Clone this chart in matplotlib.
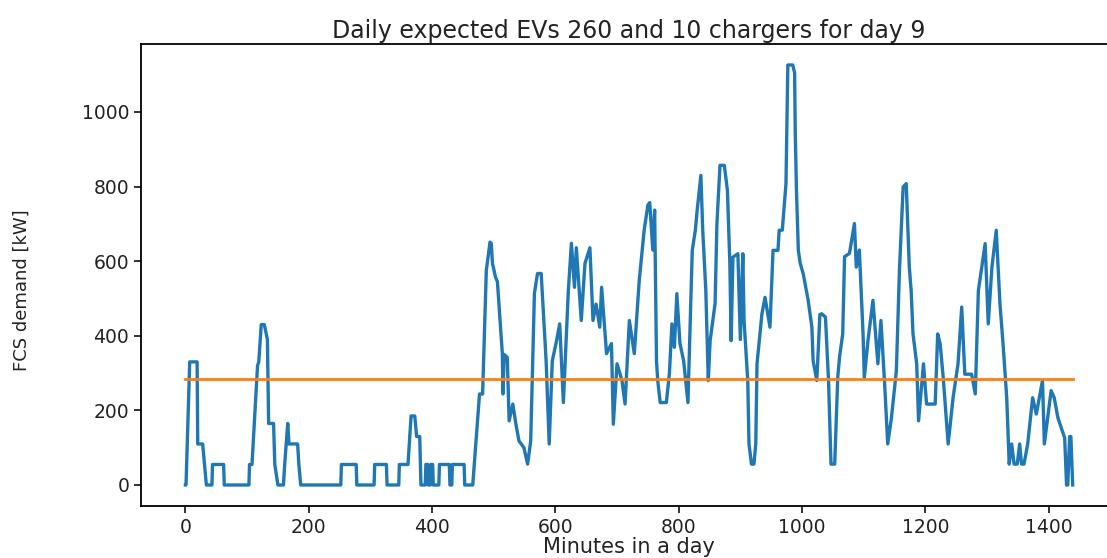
import numpy as np
import matplotlib
matplotlib.use("Agg")
import matplotlib.pyplot as plt

# demand trace: vertices (minute of day, kW)
minutes = [
    0, 1, 7, 19, 20, 28, 34, 43, 44, 62, 63, 103, 104, 108, 117, 119, 123, 128, 133, 135,
    143, 145, 150, 159, 161, 166, 168, 182, 184, 187, 252, 253, 277, 278, 306, 307, 326, 327,
    346, 347, 361, 366, 372, 375, 380, 382, 389, 390, 393, 394, 397, 398, 401, 402, 411, 412,
    428, 429, 432, 433, 452, 453, 466, 477, 482, 488, 494, 496, 498, 503, 506, 514, 515, 517,
    522, 525, 531, 536, 541, 549, 555, 560, 566, 571, 577, 585, 590, 595, 601, 607, 613, 621,
    626, 631, 634, 642, 648, 656, 661, 666, 672, 675, 683, 691, 694, 700, 708, 713, 720, 728,
    736, 744, 750, 753, 758, 761, 764, 766, 770, 780, 785, 789, 793, 797, 802, 808, 815, 819,
    822, 827, 830, 836, 839, 844, 848, 851, 859, 862, 867, 874, 879, 883, 885, 888, 896, 900,
    904, 906, 912, 914, 918, 922, 925, 927, 935, 940, 948, 953, 961, 963, 968, 974, 977, 985,
    988, 989, 991, 994, 997, 1002, 1010, 1016, 1018, 1024, 1029, 1032, 1038, 1043, 1047, 1053,
    1058, 1061, 1066, 1069, 1077, 1085, 1088, 1093, 1099, 1101, 1107, 1115, 1123, 1128, 1134,
    1139, 1145, 1153, 1158, 1164, 1169, 1174, 1177, 1180, 1186, 1189, 1197, 1202, 1216, 1220,
    1224, 1229, 1237, 1245, 1253, 1259, 1264, 1275, 1281, 1286, 1297, 1302, 1308, 1315, 1321,
    1326, 1332, 1336, 1340, 1344, 1349, 1353, 1356, 1360, 1366, 1374, 1380, 1390, 1393, 1404,
    1409, 1415, 1426, 1429, 1431, 1434, 1436, 1439,
]
demand_kw = [
    0, 0, 330, 330, 110, 110, 0, 0, 55, 55, 0, 0, 55, 55, 320, 330, 430, 430, 390, 165,
    165, 55, 0, 0, 55, 165, 110, 110, 55, 0, 0, 55, 55, 0, 0, 55, 55, 0,
    0, 55, 55, 185, 185, 130, 130, 0, 0, 55, 55, 0, 0, 55, 55, 0, 0, 55,
    55, 0, 0, 55, 55, 0, 0, 244, 244, 575, 651, 648, 594, 557, 545, 352, 244, 350,
    342, 172, 217, 163, 118, 100, 56, 118, 513, 567, 567, 333, 110, 333, 379, 432, 221, 520,
    648, 530, 636, 441, 594, 636, 441, 485, 423, 530, 352, 379, 163, 325, 280, 217, 441, 352,
    548, 683, 750, 757, 630, 737, 333, 280, 221, 221, 300, 432, 369, 513, 380, 333, 221, 459,
    629, 683, 737, 830, 683, 521, 280, 387, 486, 701, 857, 857, 790, 593, 387, 611, 620, 390,
    620, 441, 280, 110, 56, 56, 110, 325, 459, 503, 423, 629, 629, 683, 683, 808, 1126, 1126,
    1105, 948, 790, 630, 595, 566, 495, 423, 333, 280, 457, 459, 450, 280, 56, 56,
    290, 345, 405, 612, 621, 701, 584, 630, 405, 288, 387, 495, 325, 441, 271,
    110, 180, 306, 575, 799, 808, 584, 521, 405, 325, 172, 325, 217, 217, 405,
    379, 288, 110, 234, 325, 477, 297, 297, 244, 521, 647, 432, 584, 683, 486,
    379, 234, 56, 110, 56, 56, 110, 56, 56, 110, 234, 190, 280, 110, 253,
    234, 180, 126, 0, 0, 130, 130, 0,
]
avg_demand = 283

title = "Daily expected EVs 260 and 10 chargers for day 9"
x_label = "Minutes in a day"
y_label = "FCS demand [kW]"

plt.rcParams["font.family"] = ["DejaVu Sans"]
plt.rcParams["axes.linewidth"] = 1.3

fig = plt.figure(figsize=(11.07, 5.58), dpi=100)
ax = fig.add_axes([0.1274, 0.0932, 0.8817, 0.8280])

ax.plot(minutes, demand_kw, color="#1f77b4", linewidth=2.4)
ax.plot([minutes[0], minutes[-1]], [avg_demand, avg_demand], color="#ff7f0e", linewidth=2.0)

ax.set_xticks(np.arange(0, 1401, 200))
ax.set_yticks(np.arange(0, 1001, 200))
ax.tick_params(labelsize=13.5, length=5, width=1.3, colors="#222222")

ax.set_title(title, fontsize=17, pad=4, color="#222222")
ax.set_xlabel(x_label, fontsize=15, labelpad=0, color="#222222")
ax.set_ylabel(y_label, fontsize=13, color="#222222")
ax.yaxis.set_label_coords(-0.113, 0.4675)

fig.savefig("out.png", dpi=100)
